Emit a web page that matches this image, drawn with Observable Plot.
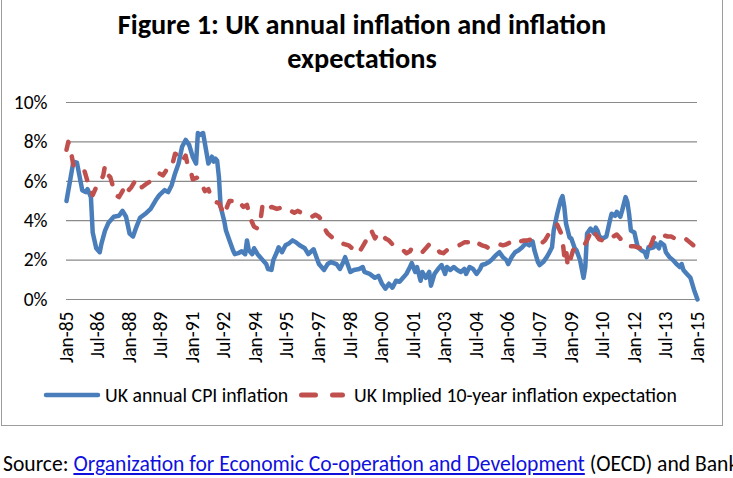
<!DOCTYPE html>
<html>
<head>
<meta charset="utf-8">
<script src="https://cdn.jsdelivr.net/npm/d3@7"></script>
<script src="https://cdn.jsdelivr.net/npm/@observablehq/plot@0.6"></script>
<style>
  html, body { margin: 0; padding: 0; background: #fff; width: 733px; height: 478px; overflow: hidden; }
  body { position: relative; font-family: Carlito, Calibri, Lato, "Open Sans", sans-serif; color: #000; }
  #frame { position: absolute; left: 1px; top: -2px; width: 722px; height: 428px; box-sizing: border-box; border: 1.5px solid #9c9c9c; }
  #title { position: absolute; left: 1px; width: 722px; top: 8px; text-align: center; font-weight: bold; font-size: 28.3px; line-height: 34px; }
  #chart { position: absolute; left: 0; top: 80px; }
  .legend-item { position: absolute; top: 383px; height: 24px; display: flex; align-items: center; font-size: 19.8px; white-space: nowrap; }
  .legend-item svg { display: block; }
  #source { position: absolute; left: 3px; top: 450px; font-size: 21.6px; white-space: nowrap; }
  #source a { color: #1010dd; text-decoration: underline; }
</style>
</head>
<body>
<div id="frame"></div>
<div id="title">Figure 1: UK annual inflation and inflation<br>expectations</div>
<div id="chart"></div>
<div class="legend-item" id="leg-cpi" style="left:43px"></div>
<div class="legend-item" id="leg-exp" style="left:296px"></div>
<div id="source">Source: <a href="#">Organization for Economic Co-operation and Development</a> (OECD) and Bank of England</div>
<script>
// UK annual CPI inflation, % (monthly readings, turning points)
const cpiDates = [
  "1985-01","1985-05","1985-07","1985-10","1985-12","1986-01","1986-03","1986-04","1986-06","1986-08",
  "1986-09","1986-11","1987-01","1987-04","1987-07","1987-09","1987-11","1988-01","1988-03","1988-05",
  "1988-07","1988-10","1989-01","1989-04","1989-06","1989-09","1989-11","1990-01","1990-03","1990-05",
  "1990-07","1990-09","1990-11","1991-01","1991-03","1991-04","1991-05","1991-07","1991-09","1991-10",
  "1991-12","1992-01","1992-02","1992-03","1992-04","1992-05","1992-07","1992-08","1992-10","1992-12",
  "1993-01","1993-03","1993-05","1993-07","1993-08","1993-09","1993-11","1993-12","1994-02","1994-05",
  "1994-07","1994-08","1994-10","1994-11","1995-01","1995-02","1995-04","1995-06","1995-08","1995-10",
  "1995-12","1996-02","1996-05","1996-07","1996-10","1996-11","1997-01","1997-04","1997-06","1997-08",
  "1997-11","1998-01","1998-03","1998-04","1998-07","1998-09","1998-12","1999-02","1999-03","1999-06",
  "1999-09","1999-11","2000-01","2000-03","2000-05","2000-07","2000-09","2000-11","2001-01","2001-03",
  "2001-05","2001-06","2001-08","2001-09","2001-11","2001-12","2002-02","2002-04","2002-05","2002-07",
  "2002-09","2002-11","2003-01","2003-02","2003-04","2003-06","2003-08","2003-10","2003-12","2004-01",
  "2004-03","2004-05","2004-07","2004-09","2004-10","2004-12","2005-02","2005-04","2005-06","2005-08",
  "2005-10","2005-12","2006-01","2006-03","2006-05","2006-07","2006-09","2006-11","2007-01","2007-03",
  "2007-04","2007-06","2007-07","2007-09","2007-11","2007-12","2008-02","2008-03","2008-05","2008-07",
  "2008-08","2008-09","2008-10","2008-12","2009-01","2009-03","2009-04","2009-06","2009-08","2009-09",
  "2009-10","2009-12","2010-02","2010-03","2010-04","2010-05","2010-07","2010-09","2010-11","2010-12",
  "2011-02","2011-03","2011-05","2011-06","2011-08","2011-09","2011-10","2011-11","2012-01","2012-02",
  "2012-03","2012-05","2012-07","2012-08","2012-09","2012-10","2012-12","2013-01","2013-03","2013-04",
  "2013-06","2013-07","2013-09","2013-11","2014-01","2014-03","2014-04","2014-05","2014-07","2014-09",
  "2014-11","2015-01"
];
const cpiValues = [
  5.0, 7.0, 6.95, 5.55, 5.45, 5.6, 5.2, 3.4, 2.6, 2.4,
  2.85, 3.5, 3.9, 4.2, 4.25, 4.5, 4.2, 3.35, 3.2, 3.7,
  4.15, 4.35, 4.6, 5.05, 5.3, 5.55, 5.45, 5.8, 6.4, 6.9,
  7.75, 8.1, 7.85, 7.25, 6.9, 8.45, 8.35, 8.45, 7.4, 6.9,
  7.25, 7.0, 7.15, 7.05, 6.2, 4.7, 4.0, 3.5, 3.0, 2.5,
  2.3, 2.35, 2.45, 2.3, 3.0, 2.5, 2.3, 2.6, 2.3, 2.0,
  1.8, 1.55, 1.5, 2.0, 2.4, 2.65, 2.4, 2.75, 2.85, 3.0,
  2.9, 2.75, 2.6, 2.3, 2.55, 2.3, 1.8, 1.5, 1.8, 1.9,
  1.8, 1.55, 1.9, 2.15, 1.4, 1.5, 1.55, 1.65, 1.4, 1.3,
  1.1, 1.2, 0.8, 0.55, 0.8, 0.6, 0.95, 0.9, 1.1, 1.3,
  1.65, 1.85, 1.4, 1.65, 0.95, 1.4, 1.1, 1.4, 0.7, 1.3,
  1.55, 1.75, 1.3, 1.65, 1.5, 1.65, 1.5, 1.4, 1.55, 1.3,
  1.65, 1.55, 1.3, 1.55, 1.75, 1.8, 1.9, 2.05, 2.25, 2.4,
  2.15, 2.0, 1.8, 2.15, 2.4, 2.5, 2.65, 2.85, 2.75, 2.95,
  2.5, 1.9, 1.75, 1.9, 2.15, 2.3, 2.65, 3.5, 4.35, 5.05,
  5.25, 4.7, 3.85, 3.15, 3.1, 2.6, 2.5, 2.0, 1.1, 1.65,
  3.35, 3.6, 3.35, 3.65, 3.5, 3.2, 3.1, 3.2, 4.0, 4.35,
  4.25, 4.45, 4.2, 4.5, 5.2, 4.95, 4.35, 3.5, 3.4, 3.0,
  2.65, 2.5, 2.4, 2.15, 2.65, 2.6, 2.65, 2.85, 2.6, 2.9,
  2.75, 2.4, 2.15, 2.0, 1.8, 1.65, 1.8, 1.5, 1.3, 1.1,
  0.5, 0.0
];

// UK implied 10-year inflation expectation, %
const expDates = [
  "1985-01","1985-02","1985-03","1985-04","1985-05","1985-07","1985-09","1985-11","1986-01","1986-02",
  "1986-04","1986-06","1986-08","1986-10","1986-11","1987-01","1987-02","1987-04","1987-05","1987-07",
  "1987-09","1987-10","1987-12","1988-02","1988-04","1988-06","1988-08","1988-11","1989-01","1989-03",
  "1989-06","1989-08","1989-11","1990-01","1990-03","1990-05","1990-07","1990-09","1990-10","1990-12",
  "1991-01","1991-04","1991-06","1991-08","1991-10","1991-12","1992-02","1992-04","1992-06","1992-07",
  "1992-09","1992-10","1992-12","1993-02","1993-04","1993-06","1993-08","1993-10","1993-12","1994-02",
  "1994-04","1994-05","1994-07","1994-08","1994-10","1995-01","1995-03","1995-05","1995-07","1995-09",
  "1995-11","1996-01","1996-03","1996-05","1996-07","1996-09","1996-11","1997-01","1997-03","1997-05",
  "1997-06","1997-08","1997-10","1997-12","1998-02","1998-04","1998-06","1998-08","1998-10","1998-12",
  "1999-02","1999-04","1999-06","1999-07","1999-09","1999-11","2000-01","2000-03","2000-05","2000-07",
  "2000-09","2000-11","2001-01","2001-03","2001-05","2001-06","2001-08","2001-10","2001-12","2002-02",
  "2002-04","2002-06","2002-08","2002-10","2002-12","2003-02","2003-04","2003-06","2003-08","2003-10",
  "2003-12","2004-02","2004-04","2004-06","2004-08","2004-10","2004-12","2005-02","2005-04","2005-06",
  "2005-08","2005-10","2005-12","2006-02","2006-04","2006-06","2006-08","2006-10","2006-12","2007-02",
  "2007-04","2007-06","2007-08","2007-10","2007-12","2008-02","2008-04","2008-05","2008-07","2008-08",
  "2008-09","2008-10","2008-11","2009-01","2009-02","2009-04","2009-06","2009-08","2009-10","2009-12",
  "2010-01","2010-03","2010-05","2010-07","2010-09","2010-11","2011-01","2011-03","2011-05","2011-07",
  "2011-09","2011-11","2012-01","2012-03","2012-05","2012-07","2012-09","2012-11","2012-12","2013-02",
  "2013-04","2013-06","2013-08","2013-10","2013-12","2014-02","2014-04","2014-06","2014-08","2014-10",
  "2014-12","2015-01"
];
const expValues = [
  7.6, 8.0, 7.7, 7.3, 6.8, 6.7, 6.7, 6.6, 6.0, 5.9,
  5.3, 5.7, 5.9, 6.3, 6.8, 6.3, 6.2, 5.6, 5.3, 5.2,
  5.5, 5.8, 5.5, 5.7, 6.0, 6.1, 5.7, 5.9, 6.0, 6.1,
  6.4, 6.3, 6.7, 6.7, 7.4, 7.3, 7.0, 7.3, 6.9, 6.5,
  6.1, 6.2, 5.9, 5.5, 5.6, 5.1, 4.95, 4.9, 4.5, 4.3,
  4.8, 5.0, 5.0, 5.1, 4.9, 4.7, 4.8, 4.1, 3.7, 3.6,
  4.2, 4.85, 4.7, 4.6, 4.7, 4.6, 4.65, 4.5, 4.45, 4.5,
  4.4, 4.5, 4.4, 4.4, 4.25, 4.2, 4.3, 4.2, 4.0, 3.5,
  3.35, 3.2, 3.0, 2.95, 2.85, 2.8, 2.75, 2.6, 2.35, 2.4,
  2.7, 3.0, 3.3, 3.5, 3.1, 3.4, 3.3, 3.1, 3.0, 2.8,
  2.7, 2.6, 2.5, 2.35, 2.45, 2.6, 2.6, 2.5, 2.4, 2.6,
  2.8, 2.8, 2.6, 2.4, 2.35, 2.5, 2.55, 2.6, 2.7, 2.8,
  2.9, 2.9, 3.05, 3.0, 2.85, 2.75, 2.7, 2.6, 2.65, 2.75,
  2.8, 2.75, 2.8, 2.9, 2.9, 2.8, 2.95, 3.0, 3.0, 3.05,
  2.95, 2.9, 2.85, 3.0, 3.3, 3.5, 3.6, 3.8, 3.4, 3.0,
  2.2, 2.6, 1.65, 2.2, 2.5, 2.6, 2.6, 2.7, 3.0, 3.4,
  3.6, 3.3, 3.05, 3.0, 2.95, 3.1, 3.2, 3.3, 3.1, 2.8,
  2.75, 2.7, 2.7, 2.65, 2.6, 2.55, 2.5, 2.9, 3.15, 3.0,
  3.1, 3.25, 3.2, 3.2, 3.1, 3.05, 3.0, 3.1, 2.95, 2.8,
  2.65, 2.6
];

// Axis ticks
const xTickDates = [
  "1985-01","1986-07","1988-01","1989-07","1991-01","1992-07","1994-01","1995-07","1997-01","1998-07",
  "2000-01","2001-07","2003-01","2004-07","2006-01","2007-07","2009-01","2010-07","2012-01","2013-07","2015-01"
];
const yTicks = [0, 2, 4, 6, 8, 10];

const seriesNames = ["UK annual CPI inflation", "UK Implied 10-year inflation expectation"];
const blue = "#4a7ebb";
const red = "#c0504d";

const parse = d3.utcParse("%Y-%m");
const cpi = cpiDates.map((d, i) => ({date: parse(d), value: cpiValues[i]}));
const exp = expDates.map((d, i) => ({date: parse(d), value: expValues[i]}));

const font = getComputedStyle(document.body).fontFamily;

const chart = Plot.plot({
  width: 733,
  height: 300,
  marginLeft: 66,
  marginRight: 36,
  marginTop: 22,
  marginBottom: 81,
  style: {fontFamily: font, fontSize: "19.5px", color: "#000", background: "transparent", overflow: "visible"},
  x: {
    type: "utc",
    domain: [parse(xTickDates[0]), parse(xTickDates[xTickDates.length - 1])],
    label: null
  },
  y: {domain: [0, 10], label: null},
  marks: [
    Plot.gridY(yTicks, {stroke: "#8a8a8a", strokeOpacity: 1, strokeWidth: 1.2}),
    Plot.axisY(yTicks, {tickSize: 0, tickPadding: 19, tickFormat: d => d + "%", fontSize: 19.5}),
    Plot.axisX(xTickDates.map(parse), {
      tickSize: 0, tickPadding: 12, tickRotate: -90,
      tickFormat: d3.utcFormat("%b-%y"), fontSize: 19.5
    }),
    Plot.lineY(cpi, {x: "date", y: "value", stroke: blue, strokeWidth: 4.5, strokeLinejoin: "round", strokeLinecap: "round"}),
    Plot.lineY(exp, {x: "date", y: "value", stroke: red, strokeWidth: 4.5, strokeDasharray: "9,14", strokeLinecap: "round", strokeLinejoin: "round"})
  ]
});
document.getElementById("chart").append(chart);

// Legend swatches
function swatch(svgInner, w) {
  return `<svg width="${w}" height="24" style="margin-right:4px">${svgInner}</svg>`;
}
document.getElementById("leg-cpi").innerHTML =
  swatch(`<line x1="3" y1="12" x2="55" y2="12" stroke="${blue}" stroke-width="4.5" stroke-linecap="round"/>`, 58) +
  `<span>${seriesNames[0]}</span>`;
document.getElementById("leg-exp").innerHTML =
  swatch(`<line x1="5.5" y1="12" x2="46.5" y2="12" stroke="${red}" stroke-width="5" stroke-dasharray="14,17" stroke-linecap="round"/>`, 54) +
  `<span>${seriesNames[1]}</span>`;
</script>
</body>
</html>
